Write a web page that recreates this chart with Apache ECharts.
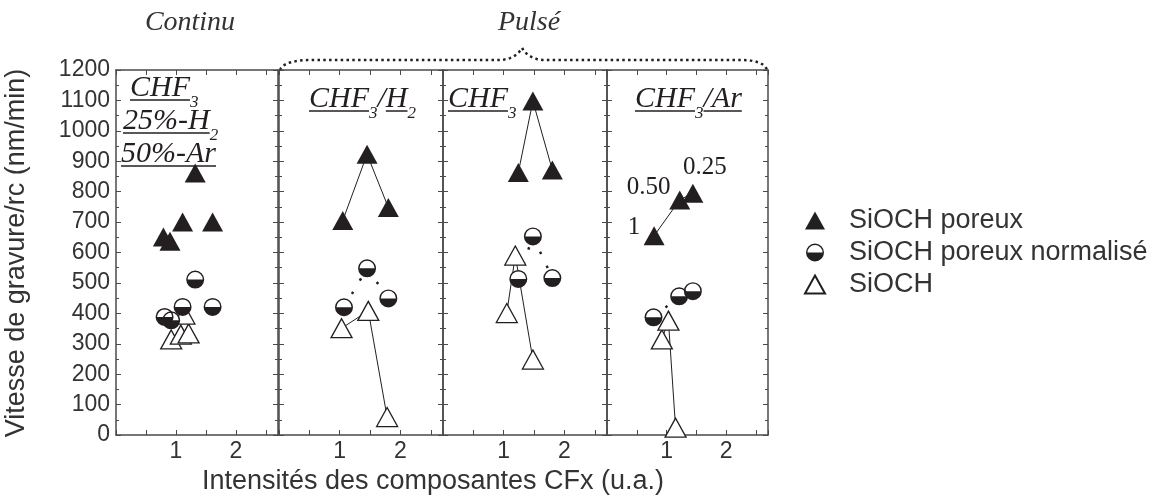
<!DOCTYPE html>
<html><head><meta charset="utf-8">
<script src="https://cdn.jsdelivr.net/npm/echarts@6/dist/echarts.min.js"></script>
<style>html,body{margin:0;padding:0;background:#fff}#c{width:1165px;height:500px}</style>
</head><body><div id="c"></div>
<script>
// ---------------- data ----------------
const groupLabels = ['Continu', 'Pulsé'];
const xTickLabels = ['1', '2'];
const legendNames = ['SiOCH poreux', 'SiOCH poreux normalisé', 'SiOCH'];
const xTitle = 'Intensités des composantes CFx (u.a.)';
const yTitle = 'Vitesse de gravure/rc (nm/min)';

// Panel 1 : CHF3 / 25%-H2 / 50%-Ar (continu)
const poreux1    = [[0.79, 651], [0.90, 637], [1.11, 700], [1.32, 861], [1.61, 700]];
const normalise1 = [[0.81, 388], [0.92, 377], [1.11, 421], [1.32, 511], [1.61, 421]];
const sioch1     = [[0.92, 314], [1.08, 330], [1.21, 334], [1.14, 396]];
// Panel 2 : CHF3/H2 (pulsé)
const poreux2    = [[1.05, 705], [1.45, 923], [1.80, 748]];
const normalise2 = [[1.07, 420], [1.45, 548], [1.80, 449]];
const sioch2     = [[1.03, 351], [1.47, 408], [1.78, 59]];
// Panel 3 : CHF3 (pulsé)
const poreux3    = [[1.24, 863], [1.48, 1098], [1.80, 871]];
const normalise3 = [[1.24, 513], [1.48, 653], [1.80, 516]];
const sioch3     = [[1.05, 401], [1.19, 590], [1.48, 248]];
// Panel 4 : CHF3/Ar (pulsé)
const poreux4    = [[0.79, 655], [1.22, 773], [1.44, 795]];
const normalise4 = [[0.78, 387], [1.21, 456], [1.44, 473]];
const sioch4     = [[0.92, 314], [1.03, 376], [1.15, 24]];
const ratioLabels4 = ['1', '0.50', '0.25'];

// panel titles: segments (u = underlined, sub = subscript)
const panelTitle1 = [
  [{t: 'CHF', u: 1}, {t: '3', sub: 1}],
  [{t: '25%-H', u: 1}, {t: '2', sub: 1}],
  [{t: '50%-Ar', u: 1}]
];
const panelTitle2 = [[{t: 'CHF', u: 1}, {t: '3', sub: 1}, {t: '/'}, {t: 'H', u: 1}, {t: '2', sub: 1}]];
const panelTitle3 = [[{t: 'CHF', u: 1}, {t: '3', sub: 1}]];
const panelTitle4 = [[{t: 'CHF', u: 1}, {t: '3', sub: 1}, {t: '/Ar', u: 1}]];

// ---------------- layout / style ----------------
const K = '#231f20';
const AX = '#4a4a4a';
const TXT = '#333';
const SANS = '"Liberation Sans", Arial, sans-serif';
const SERIF = '"Liberation Serif", "Times New Roman", serif';

const grids = [
  {left: 116, top: 70, width: 162, height: 365},
  {left: 279, top: 70, width: 164, height: 365},
  {left: 443, top: 70, width: 164, height: 365},
  {left: 607, top: 70, width: 161, height: 365}
];
const titleAnchors = [
  [[130, 96], [123, 129], [121, 162]],
  [[309, 107]],
  [[448, 107]],
  [[635, 107]]
];
const panels = [
  {p: poreux1, n: normalise1, s: sioch1, lines: false, title: panelTitle1},
  {p: poreux2, n: normalise2, s: sioch2, lines: true, title: panelTitle2},
  {p: poreux3, n: normalise3, s: sioch3, lines: true, title: panelTitle3},
  {p: poreux4, n: normalise4, s: sioch4, lines: true, title: panelTitle4, labels: ratioLabels4}
];
const ratioOffsets = [[-20, -8], [-31, -12], [12, -26]];
const TRI = [21, 19];

// half filled circle: ring + lower half disc
const HALF = 'path://M0 10 A10 10 0 1 1 20 10 A10 10 0 1 1 0 10 Z ' +
  'M1.6 10 A8.4 8.4 0 1 0 18.4 10 A8.4 8.4 0 1 0 1.6 10 Z ' +
  'M1.6 10 A8.4 8.4 0 0 0 18.4 10 Z';

const xAxes = [], yAxes = [], series = [], graphics = [];
const lineStyleAx = {color: AX, width: 1.5};

grids.forEach((g, i) => {
  ['bottom', 'top'].forEach((pos, k) => {
    xAxes.push({
      gridIndex: i, type: 'value', min: 0, max: 2.7, interval: 0.5, position: pos,
      axisLine: {show: true, onZero: false, lineStyle: lineStyleAx},
      axisTick: {show: true, inside: true, length: 5, lineStyle: {color: AX, width: 1}},
      axisLabel: {
        show: k === 0, fontSize: 23, fontFamily: SANS, color: TXT, margin: 5,
        formatter: v => (Math.abs(v - 1) < 1e-9 ? xTickLabels[0] : Math.abs(v - 2) < 1e-9 ? xTickLabels[1] : '')
      },
      splitLine: {show: false}
    });
  });
  ['left', 'right'].forEach((pos, k) => {
    yAxes.push({
      gridIndex: i, type: 'value', min: 0, max: 1200, interval: 100, position: pos,
      axisLine: {show: true, onZero: false, lineStyle: lineStyleAx},
      axisTick: {show: true, inside: true, length: 5, lineStyle: {color: AX, width: 1}},
      minorTick: {show: true, splitNumber: 2, length: 3, lineStyle: {color: AX, width: 1}},
      axisLabel: {show: i === 0 && k === 0, fontSize: 23, fontFamily: SANS, color: TXT, margin: 6,
        formatter: v => String(v)},
      splitLine: {show: false}
    });
  });
});

panels.forEach((pn, i) => {
  const ax = {xAxisIndex: 2 * i, yAxisIndex: 2 * i};
  if (pn.lines) {
    series.push(Object.assign({type: 'line', name: 'lp' + i, data: pn.p, symbol: 'none', z: 1, silent: true,
      lineStyle: {color: K, width: 1}}, ax));
    series.push(Object.assign({type: 'line', name: 'ls' + i, data: pn.s, symbol: 'none', z: 1, silent: true,
      lineStyle: {color: K, width: 1}}, ax));
    series.push(Object.assign({type: 'line', name: 'ln' + i, data: pn.n, symbol: 'none', z: 1, silent: true,
      lineStyle: {color: K, width: 2.5, type: [2.5, 13], cap: 'butt'}}, ax));
  }
  series.push(Object.assign({type: 'scatter', name: legendNames[2], data: pn.s, symbol: 'triangle',
    symbolSize: TRI, z: 2, itemStyle: {color: '#fff', borderColor: K, borderWidth: 1.3, opacity: 1}}, ax));
  series.push(Object.assign({type: 'scatter', name: 'bg' + i, data: pn.n, symbol: 'circle',
    symbolSize: 17, z: 3, itemStyle: {color: '#fff', opacity: 1}}, ax));
  series.push(Object.assign({type: 'scatter', name: legendNames[1], data: pn.n, symbol: HALF,
    symbolSize: 18, z: 4, itemStyle: {color: K, opacity: 1}}, ax));
  const pdata = pn.labels ? pn.p.map((v, j) => ({
    value: v,
    label: {show: true, position: 'inside', formatter: pn.labels[j], offset: ratioOffsets[j],
      fontSize: 25, fontFamily: SERIF, color: K}
  })) : pn.p;
  series.push(Object.assign({type: 'scatter', name: legendNames[0], data: pdata, symbol: 'triangle',
    symbolSize: TRI, z: 5, itemStyle: {color: K, opacity: 1}}, ax));
});

// ---------------- text helpers ----------------
const mctx = document.createElement('canvas').getContext('2d');
function tw(text, font) { mctx.font = font; return mctx.measureText(text).width; }
function baseOff(font) { mctx.font = font; mctx.textBaseline = 'middle'; return mctx.measureText('H').actualBoundingBoxDescent; }
const MAIN = 'italic 30px ' + SERIF;
const SUB = 'italic 17px ' + SERIF;

panels.forEach((pn, i) => {
  pn.title.forEach((segs, li) => {
    let [x, base] = titleAnchors[i][li];
    segs.forEach(sg => {
      const font = sg.sub ? SUB : MAIN;
      const b = sg.sub ? base + 11 : base;
      graphics.push({type: 'text', x: x, y: b - baseOff(font), silent: true,
        style: {text: sg.t, font: font, fill: K, align: 'left', verticalAlign: 'middle'}});
      const w = tw(sg.t, font);
      if (sg.u) {
        graphics.push({type: 'line', silent: true, shape: {x1: x, y1: base + 4, x2: x + w, y2: base + 4},
          style: {stroke: K, lineWidth: 1.5}});
      }
      x += w;
    });
  });
});

// group headings
const HEAD = 'italic 28px ' + SERIF;
graphics.push({type: 'text', x: 190, y: 23, silent: true,
  style: {text: groupLabels[0], font: HEAD, fill: TXT, align: 'center', verticalAlign: 'middle'}});
graphics.push({type: 'text', x: 529, y: 23, silent: true,
  style: {text: groupLabels[1], font: HEAD, fill: TXT, align: 'center', verticalAlign: 'middle'}});

// dotted brace over the pulsed panels (quadratic pieces sampled into a polyline)
function quad(p0, c, p1, n) {
  const pts = [];
  for (let k = 0; k <= n; k++) {
    const t = k / n, a = (1 - t) * (1 - t), b = 2 * (1 - t) * t, d = t * t;
    pts.push([a * p0[0] + b * c[0] + d * p1[0], a * p0[1] + b * c[1] + d * p1[1]]);
  }
  return pts;
}
const bracePts = [].concat(
  quad([280, 70], [284, 60], [312, 60], 12),
  quad([498, 60], [515, 60], [522, 48], 10),
  quad([522, 48], [529, 60], [546, 60], 10),
  quad([740, 60], [764, 60], [767, 70], 12)
);
graphics.push({type: 'polyline', silent: true, shape: {points: bracePts},
  style: {fill: null, stroke: K, lineWidth: 2.5, lineDash: [2.5, 3.3]}});

// axis titles
graphics.push({type: 'text', x: 433, y: 482, silent: true,
  style: {text: xTitle, font: '27px ' + SANS, fill: TXT, align: 'center', verticalAlign: 'middle'}});
graphics.push({type: 'text', x: 17, y: 253, rotation: Math.PI / 2, silent: true,
  style: {text: yTitle, font: '27px ' + SANS, fill: TXT, align: 'center', verticalAlign: 'middle'}});

const chart = echarts.init(document.getElementById('c'), null, {renderer: 'canvas'});
chart.setOption({
  animation: false,
  backgroundColor: '#fff',
  grid: grids,
  xAxis: xAxes,
  yAxis: yAxes,
  legend: {
    data: legendNames, orient: 'vertical', left: 799, top: 202,
    itemWidth: 20, itemHeight: 18, itemGap: 5, selectedMode: false,
    textStyle: {fontSize: 27, fontFamily: SANS, color: TXT, padding: [0, 0, 0, 19]}
  },
  series: series,
  graphic: graphics
});
</script>
</body></html>
